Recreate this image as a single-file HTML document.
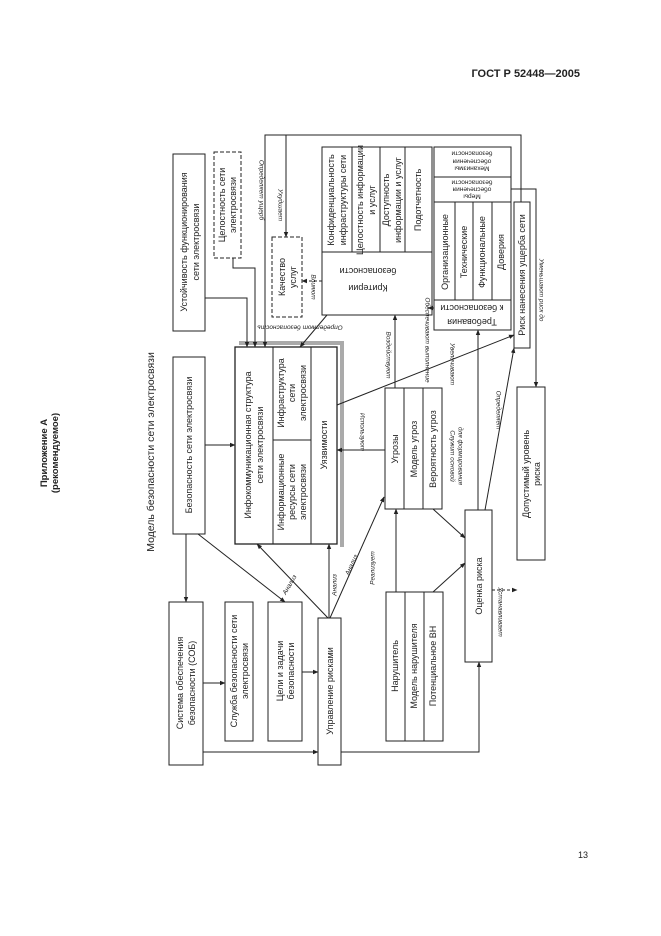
<!DOCTYPE html>
<html><head><meta charset="utf-8"><style>
html,body{margin:0;padding:0;background:#fff}
svg{display:block}
text{font-family:"Liberation Sans",sans-serif;fill:#222}
.b{font-size:9px}
.l{font-size:6.5px;font-style:italic}
</style></head><body>
<svg width="661" height="936" viewBox="0 0 661 936" xmlns="http://www.w3.org/2000/svg">
<defs>
<marker id="a" markerWidth="6" markerHeight="6" refX="5" refY="3" orient="auto" markerUnits="userSpaceOnUse"><path d="M0,0.8 L5.5,3 L0,5.2 z" fill="#222"/></marker>
</defs>
<text x="580" y="77" text-anchor="end" style="font-size:11px;font-weight:bold">ГОСТ Р 52448—2005</text>
<text x="578" y="858" style="font-size:9px">13</text>
<text transform="translate(47,453) rotate(-90)" text-anchor="middle" style="font-size:9.5px;font-weight:bold">Приложение А</text>
<text transform="translate(58,453) rotate(-90)" text-anchor="middle" style="font-size:9.5px;font-weight:bold">(рекомендуемое)</text>
<text transform="translate(154,452) rotate(-90)" text-anchor="middle" style="font-size:10.5px">Модель безопасности сети электросвязи</text>

<g fill="none" stroke="#222" stroke-width="1">
<path d="M239,343 H342 V547" stroke="#aaa" stroke-width="4"/>
<rect x="173" y="154" width="32" height="177" fill="#fff"/>
<rect x="214" y="152" width="27" height="106" stroke-dasharray="4,2"/>
<rect x="173" y="357" width="32" height="177" fill="#fff"/>
<rect x="235" y="347" width="102" height="197" fill="#fff" stroke-width="1.3"/>
<path d="M273,347 V544 M311,347 V544 M273,440 H311"/>
<rect x="272" y="237" width="30" height="80" stroke-dasharray="4,2"/>
<rect x="322" y="147" width="110" height="168" fill="#fff"/>
<path d="M322,252 H432 M352,147 V252 M380,147 V252 M405,147 V252"/>
<rect x="434" y="147" width="77" height="183" fill="#fff"/>
<path d="M434,177 H511 M434,202 H511 M434,300 H511 M455,202 V300 M473,202 V300 M492,202 V300"/>
<rect x="514" y="202" width="16" height="146" fill="#fff"/>
<rect x="517" y="387" width="28" height="173"/>
<rect x="385" y="388" width="57" height="121" fill="#fff"/>
<path d="M404,388 V509 M423,388 V509"/>
<rect x="465" y="510" width="27" height="152" fill="#fff"/>
<rect x="169" y="602" width="34" height="163"/>
<rect x="225" y="602" width="28" height="139"/>
<rect x="268" y="602" width="34" height="139"/>
<rect x="318" y="618" width="23" height="147"/>
<rect x="386" y="592" width="57" height="149"/>
<path d="M405,592 V741 M424,592 V741"/>

<path d="M205,445 H235" marker-end="url(#a)"/>
<path d="M186,534 V602" marker-end="url(#a)"/>
<path d="M198,534 L285,602" marker-end="url(#a)"/>
<path d="M203,683 H225" marker-end="url(#a)"/>
<path d="M302,672 H318" marker-end="url(#a)"/>
<path d="M203,752 H318" marker-end="url(#a)"/>
<path d="M341,752 H479 V662" marker-end="url(#a)"/>
<path d="M328,618 L257,544" marker-end="url(#a)"/>
<path d="M329,618 V544" marker-end="url(#a)"/>
<path d="M330,618 L384,497" marker-end="url(#a)"/>
<path d="M396,592 V509" marker-end="url(#a)"/>
<path d="M433,592 L465,563" marker-end="url(#a)"/>
<path d="M433,509 L465,538" marker-end="url(#a)"/>
<path d="M385,450 H337" marker-end="url(#a)"/>
<path d="M395,388 V315" marker-end="url(#a)"/>
<path d="M337,405 L514,335" marker-end="url(#a)"/>
<path d="M478,510 V330" marker-end="url(#a)"/>
<path d="M485,510 L514,348" marker-end="url(#a)"/>
<path d="M492,590 H517" stroke-dasharray="3,2" marker-end="url(#a)"/>
<path d="M434,308 H428" marker-end="url(#a)"/>
<path d="M511,189 H536 V387" marker-end="url(#a)"/>
<path d="M521,202 V135 H265 V347" marker-end="url(#a)"/>
<path d="M286,135 V237" marker-end="url(#a)"/>
<path d="M322,281 H302" stroke-dasharray="3,2" marker-end="url(#a)"/>
<path d="M205,298 H247 V347" marker-end="url(#a)"/>
<path d="M233,258 V268 H255 V347" marker-end="url(#a)"/>
<path d="M327,315 L300,347" marker-end="url(#a)"/>
</g>

<g class="b" text-anchor="middle" dominant-baseline="central">
<text transform="translate(184,242) rotate(-90)">Устойчивость функционирования</text>
<text transform="translate(196,242) rotate(-90)">сети электросвязи</text>
<text transform="translate(222,205) rotate(-90)">Целостность сети</text>
<text transform="translate(233,205) rotate(-90)">электросвязи</text>
<text transform="translate(189,445) rotate(-90)">Безопасность сети электросвязи</text>
<text transform="translate(248,445) rotate(-90)">Инфокоммуникационная структура</text>
<text transform="translate(260,445) rotate(-90)">сети электросвязи</text>
<text transform="translate(281,393) rotate(-90)">Инфраструктура</text>
<text transform="translate(292,393) rotate(-90)">сети</text>
<text transform="translate(303,393) rotate(-90)">электросвязи</text>
<text transform="translate(281,492) rotate(-90)">Информационные</text>
<text transform="translate(292,492) rotate(-90)">ресурсы сети</text>
<text transform="translate(303,492) rotate(-90)">электросвязи</text>
<text transform="translate(324,445) rotate(-90)">Уязвимости</text>
<text transform="translate(282,277) rotate(-90)">Качество</text>
<text transform="translate(293,277) rotate(-90)">услуг</text>
<text transform="translate(331,200) rotate(-90)">Конфиденциальность</text>
<text transform="translate(343,200) rotate(-90)">инфраструктуры сети</text>
<text transform="translate(360,200) rotate(-90)">Целостность информации</text>
<text transform="translate(372,200) rotate(-90)">и услуг</text>
<text transform="translate(386,200) rotate(-90)">Доступность</text>
<text transform="translate(398,200) rotate(-90)">информации и услуг</text>
<text transform="translate(418,200) rotate(-90)">Подотчетность</text>
<text transform="translate(368,288) rotate(180)">Критерии</text>
<text transform="translate(368,271) rotate(180)">безопасности</text>
<text transform="translate(445,252) rotate(-90)">Организационные</text>
<text transform="translate(464,252) rotate(-90)">Технические</text>
<text transform="translate(482,252) rotate(-90)">Функциональные</text>
<text transform="translate(501,252) rotate(-90)">Доверия</text>
<text transform="translate(472,322) rotate(180)">Требования</text>
<text transform="translate(472,308) rotate(180)">к безопасности</text>
<text transform="translate(522,275) rotate(-90)">Риск нанесения ущерба сети</text>
<text transform="translate(526,474) rotate(-90)">Допустимый уровень</text>
<text transform="translate(537,474) rotate(-90)">риска</text>
<text transform="translate(395,449) rotate(-90)">Угрозы</text>
<text transform="translate(414,449) rotate(-90)">Модель угроз</text>
<text transform="translate(433,449) rotate(-90)">Вероятность угроз</text>
<text transform="translate(479,586) rotate(-90)">Оценка риска</text>
<text transform="translate(180,683) rotate(-90)">Система обеспечения</text>
<text transform="translate(192,683) rotate(-90)">безопасности (СОБ)</text>
<text transform="translate(234,671) rotate(-90)">Служба безопасности сети</text>
<text transform="translate(245,671) rotate(-90)">электросвязи</text>
<text transform="translate(280,671) rotate(-90)">Цели и задачи</text>
<text transform="translate(291,671) rotate(-90)">безопасности</text>
<text transform="translate(330,691) rotate(-90)">Управление рисками</text>
<text transform="translate(395,666) rotate(-90)">Нарушитель</text>
<text transform="translate(414,666) rotate(-90)">Модель нарушителя</text>
<text transform="translate(433,666) rotate(-90)">Потенциальное ВН</text>
</g>
<g style="font-size:6.5px" text-anchor="middle" dominant-baseline="central">
<text transform="translate(472,196) rotate(180)">Меры</text>
<text transform="translate(472,189) rotate(180)">обеспечения</text>
<text transform="translate(472,182) rotate(180)">безопасности</text>
<text transform="translate(472,168) rotate(180)">Механизмы</text>
<text transform="translate(472,161) rotate(180)">обеспечения</text>
<text transform="translate(472,153) rotate(180)">безопасности</text>
</g>
<g class="l" text-anchor="middle" dominant-baseline="central">
<text transform="translate(280,205) rotate(90)">Ухудшает</text>
<text transform="translate(261,190) rotate(90)">Определяет ущерб</text>
<text transform="translate(313,287) rotate(90)">Влияют</text>
<text transform="translate(300,327) rotate(180)">Определяют безопасность</text>
<text transform="translate(388,355) rotate(90)">Воздействуют</text>
<text transform="translate(427,340) rotate(90)">Обеспечивают выполнение</text>
<text transform="translate(452,364) rotate(90)">Увеличивают</text>
<text transform="translate(452,456) rotate(90)">Служит основой</text>
<text transform="translate(460,456) rotate(90)">для формирования</text>
<text transform="translate(498,410) rotate(90)">Определяет</text>
<text transform="translate(500,612) rotate(90)">Устанавливает</text>
<text transform="translate(541,290) rotate(90)">Уменьшают риск до</text>
<text transform="translate(362,432) rotate(90)">Используют</text>
<text transform="translate(373,568) rotate(-90)">Реализует</text>
<text transform="translate(290,585) rotate(-60)">Анализ</text>
<text transform="translate(335,585) rotate(-90)">Анализ</text>
<text transform="translate(352,565) rotate(-65)">Анализ</text>
</g>
</svg>
</body></html>
